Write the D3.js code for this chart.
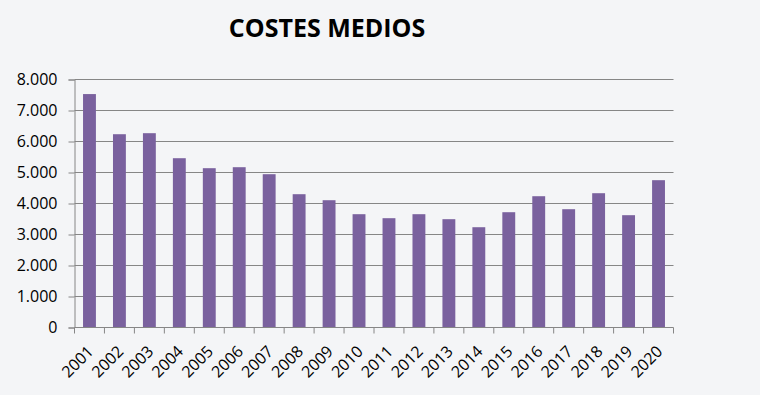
<!DOCTYPE html>
<html>
<head>
<meta charset="utf-8">
<script src="https://cdn.jsdelivr.net/npm/d3@7"></script>
<style>
  html, body { margin: 0; padding: 0; background: #f4f5f7; }
  svg { display: block; font-family: 'Open Sans', 'Lato', sans-serif; }
</style>
</head>
<body>
<div id="chart"></div>
<script>
// data
const years = ['2001', '2002', '2003', '2004', '2005', '2006', '2007', '2008', '2009', '2010',
  '2011', '2012', '2013', '2014', '2015', '2016', '2017', '2018', '2019', '2020'];
const costs = [7530, 6235, 6268, 5461, 5139, 5171, 4945, 4300, 4106, 3655,
  3526, 3655, 3494, 3235, 3719, 4235, 3816, 4332, 3623, 4752];
const yTicks = [0, 1000, 2000, 3000, 4000, 5000, 6000, 7000, 8000];
const title = 'COSTES MEDIOS';

const width = 760, height = 395;
const margin = { top: 79.5, right: 86.5, bottom: 67.5, left: 74.5 };
const innerW = width - margin.left - margin.right;
const innerH = height - margin.top - margin.bottom;
const font = "'Open Sans', 'Lato', sans-serif";

const svg = d3.select('#chart').append('svg')
  .attr('width', width)
  .attr('height', height);

svg.append('rect')
  .attr('width', width)
  .attr('height', height)
  .attr('fill', '#f4f5f7');

svg.append('text')
  .attr('x', 327)
  .attr('y', 37)
  .attr('text-anchor', 'middle')
  .style('font-family', font)
  .style('font-size', '25px')
  .style('font-weight', 'bold')
  .style('fill', '#000')
  .text(title);

const chart = svg.append('g')
  .attr('transform', `translate(${margin.left}, ${margin.top})`);

const xScale = d3.scaleBand().domain(years).range([0, innerW]).paddingInner(0.57).paddingOuter(0.285);
const yScale = d3.scaleLinear().domain([0, 8000]).range([innerH, 0]);

const fmt = d => d3.format(',')(d).replace(/,/g, '.');

// gridlines
chart.append('g')
  .attr('class', 'grid')
  .selectAll('line')
  .data(yTicks.filter(d => d > 0))
  .enter()
  .append('line')
  .attr('x1', 0)
  .attr('x2', innerW)
  .attr('y1', d => yScale(d))
  .attr('y2', d => yScale(d))
  .attr('stroke', '#868686')
  .attr('stroke-width', 1);

// bars
chart.selectAll('.bar')
  .data(costs)
  .enter()
  .append('rect')
  .attr('class', 'bar')
  .attr('x', (d, i) => xScale(years[i]))
  .attr('y', d => yScale(d))
  .attr('width', xScale.bandwidth())
  .attr('height', d => innerH - yScale(d))
  .attr('fill', '#7a619e');

// y axis
const yAxis = chart.append('g')
  .attr('class', 'axis axis-y')
  .call(d3.axisLeft(yScale).tickValues(yTicks).tickFormat(fmt).tickSize(6).tickPadding(11));

// x axis with ticks at band boundaries
const step = xScale.step();
const xAxis = chart.append('g')
  .attr('class', 'axis axis-x')
  .attr('transform', `translate(0, ${innerH})`);

xAxis.append('line')
  .attr('x1', 0).attr('x2', innerW)
  .attr('y1', 0).attr('y2', 0)
  .attr('stroke', '#868686');

xAxis.selectAll('.tick-mark')
  .data(d3.range(years.length + 1))
  .enter()
  .append('line')
  .attr('class', 'tick-mark')
  .attr('x1', i => i * step)
  .attr('x2', i => i * step)
  .attr('y1', 0)
  .attr('y2', 6)
  .attr('stroke', '#868686');

xAxis.selectAll('.label')
  .data(years)
  .enter()
  .append('text')
  .attr('class', 'label')
  .attr('text-anchor', 'end')
  .attr('transform', d => `translate(${xScale(d) + xScale.bandwidth() / 2 + 5}, 25) rotate(-45)`)
  .style('font-family', font)
  .style('font-size', '16px')
  .style('fill', '#000')
  .text(d => d);

yAxis.select('.domain').attr('stroke', '#868686');
yAxis.selectAll('.tick line').attr('stroke', '#868686');
yAxis.selectAll('.tick text')
  .style('font-family', font)
  .style('font-size', '16px')
  .style('fill', '#000');
</script>
</body>
</html>
